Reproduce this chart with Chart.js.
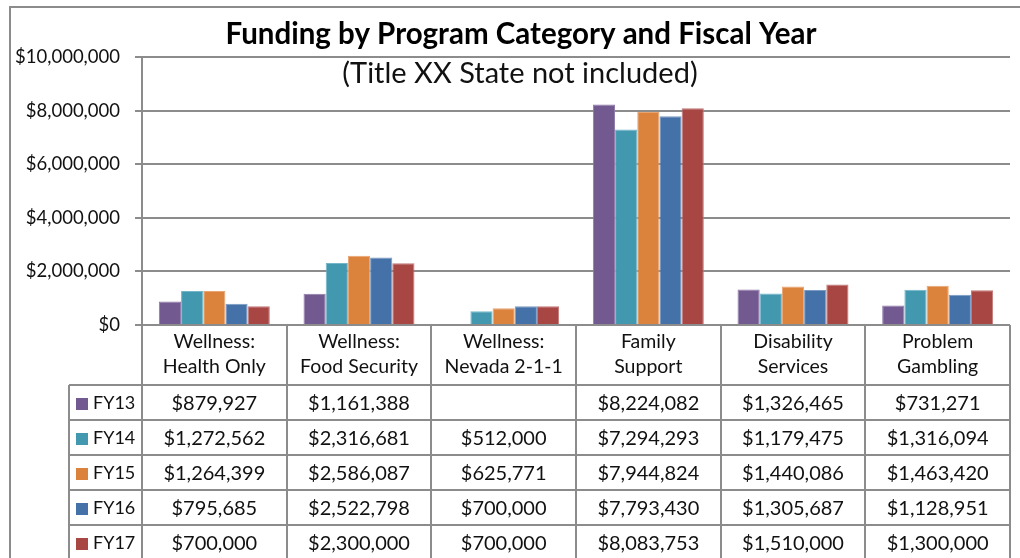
<!DOCTYPE html>
<html>
<head>
<meta charset="utf-8">
<script src="https://cdn.jsdelivr.net/npm/chart.js@4/dist/chart.umd.min.js"></script>
<style>
  html, body { margin: 0; padding: 0; background: #ffffff; }
  #wrap { width: 1020px; height: 558px; position: relative; }
</style>
</head>
<body>
<div id="wrap"><canvas id="c" width="1020" height="558"></canvas></div>
<script>
// ---- data ----
const categories = [
  ["Wellness:", "Health Only"],
  ["Wellness:", "Food Security"],
  ["Wellness:", "Nevada 2-1-1"],
  ["Family", "Support"],
  ["Disability", "Services"],
  ["Problem", "Gambling"]
];
const seriesNames = ["FY13", "FY14", "FY15", "FY16", "FY17"];
const fy13 = [879927, 1161388, null, 8224082, 1326465, 731271];
const fy14 = [1272562, 2316681, 512000, 7294293, 1179475, 1316094];
const fy15 = [1264399, 2586087, 625771, 7944824, 1440086, 1463420];
const fy16 = [795685, 2522798, 700000, 7793430, 1305687, 1128951];
const fy17 = [700000, 2300000, 700000, 8083753, 1510000, 1300000];
const yMax = 10000000;
const yStep = 2000000;
const titleText = "Funding by Program Category and Fiscal Year";
const subtitleText = "(Title XX State not included)";

// ---- styles ----
const seriesColors = ["#725990", "#4298AF", "#DB823D", "#4471A7", "#A84644"];
const seriesBorders = ["#8F7AA8", "#74B6C8", "#E9A472", "#7A9AC2", "#C07876"];
const lineGray = "#8C8C8C";
const FONT = "Lato, 'Open Sans', sans-serif";

function money(v) {
  if (v === null || v === undefined) return "";
  const s = Math.round(v).toString();
  return "$" + s.replace(/\B(?=(\d{3})+(?!\d))/g, ",");
}

const allSeries = [fy13, fy14, fy15, fy16, fy17];

const tablePlugin = {
  id: "tablePlugin",
  afterDraw(chart) {
    const ctx = chart.ctx;
    const ca = chart.chartArea;
    const xs = chart.scales.x;
    const n = categories.length;
    const colW = (ca.right - ca.left) / n;
    const headerTop = ca.bottom;
    const headerBottom = headerTop + 60;
    const rowH = 35;
    const legendLeft = 69;

    ctx.save();
    // outer border
    ctx.strokeStyle = lineGray;
    ctx.lineWidth = 2;
    ctx.strokeRect(10, 7, 1040, 600);

    // title
    ctx.fillStyle = "#000000";
    ctx.textAlign = "center";
    ctx.textBaseline = "middle";
    ctx.font = "bold 29.5px " + FONT;
    ctx.fillText(titleText, 521, 34);
    ctx.fillStyle = "#111111";
    ctx.font = "29px " + FONT;
    ctx.fillText(subtitleText, 520, 74);

    // table lines
    ctx.strokeStyle = lineGray;
    ctx.lineWidth = 2;
    ctx.beginPath();
    for (let i = 0; i <= n; i++) {
      const x = Math.round(ca.left + i * colW);
      ctx.moveTo(x, headerTop);
      ctx.lineTo(x, 560);
    }
    ctx.moveTo(legendLeft, headerBottom);
    ctx.lineTo(legendLeft, 560);
    for (let r = 0; r <= seriesNames.length; r++) {
      const y = Math.round(headerBottom + r * rowH);
      ctx.moveTo(legendLeft, y);
      ctx.lineTo(ca.right, y);
    }
    ctx.stroke();

    // header labels
    ctx.fillStyle = "#111111";
    ctx.font = "19.5px " + FONT;
    ctx.textAlign = "center";
    ctx.textBaseline = "middle";
    for (let i = 0; i < n; i++) {
      const cx = xs.getPixelForValue(i);
      const lines = categories[i];
      ctx.fillText(lines[0], cx, headerTop + 17);
      ctx.fillText(lines[1], cx, headerTop + 42);
    }

    // rows
    for (let r = 0; r < seriesNames.length; r++) {
      const cy = headerBottom + r * rowH + rowH / 2 + 1;
      // legend key
      ctx.fillStyle = seriesColors[r];
      ctx.fillRect(76, Math.round(cy - 6), 12, 12);
      ctx.fillStyle = "#111111";
      ctx.textAlign = "left";
      ctx.font = "18px " + FONT;
      ctx.fillText(seriesNames[r], 93, cy);
      ctx.textAlign = "center";
      ctx.font = "20px " + FONT;
      for (let i = 0; i < n; i++) {
        const cx = xs.getPixelForValue(i);
        ctx.fillText(money(allSeries[r][i]), cx, cy);
      }
    }
    ctx.restore();
  }
};

new Chart(document.getElementById("c"), {
  type: "bar",
  data: {
    labels: categories.map(c => c.join(" ")),
    datasets: seriesNames.map((name, k) => ({
      label: name,
      data: allSeries[k],
      backgroundColor: seriesColors[k],
      borderColor: seriesBorders[k],
      borderWidth: 1,
      categoryPercentage: 0.767,
      barPercentage: 1.0
    }))
  },
  options: {
    responsive: false,
    animation: false,
    devicePixelRatio: 1,
    layout: { padding: { left: 0, top: 57, right: 10, bottom: 233 } },
    plugins: {
      legend: { display: false },
      title: { display: false },
      tooltip: { enabled: false }
    },
    scales: {
      x: { display: false },
      y: {
        min: 0,
        max: yMax,
        afterFit(scale) { scale.width = 142; },
        ticks: {
          stepSize: yStep,
          padding: 15,
          color: "#111111",
          font: { family: FONT, size: 18.5 },
          callback: v => money(v)
        },
        grid: {
          color: lineGray,
          lineWidth: 2,
          drawTicks: true,
          tickLength: 7,
          tickColor: lineGray
        },
        border: { display: true, color: lineGray, width: 2 }
      }
    }
  },
  plugins: [tablePlugin]
});
</script>
</body>
</html>
